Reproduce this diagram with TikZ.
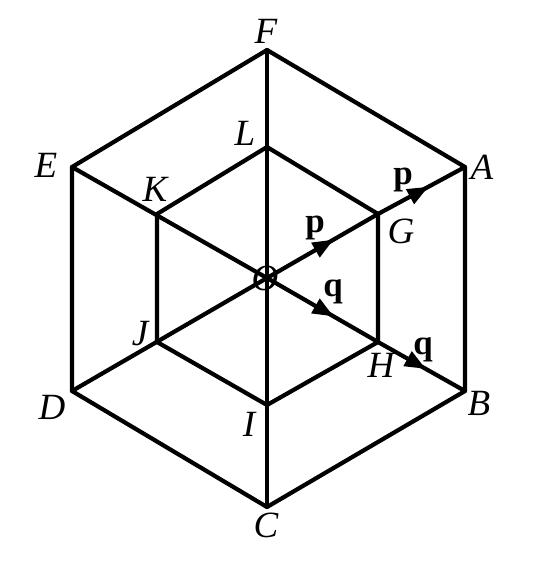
\documentclass[tikz,border=0pt]{standalone}
\usepackage{fontspec}
\setmainfont{Liberation Serif}
\usetikzlibrary{arrows.meta,decorations.markings}
\tikzset{
  edge/.style={line width=4.2pt, line cap=round, line join=round},
  lbl/.style={inner sep=0pt, font=\fontsize{37}{37}\selectfont\itshape},
  vec/.style={inner sep=0pt, font=\fontsize{35}{35}\selectfont\bfseries},
  arrat/.style={postaction={decorate}, decoration={markings,
     mark=at position #1 with {\arrow{Triangle[length=21pt,width=16pt]}}}}
}
\begin{document}
\begin{tikzpicture}[x=1pt,y=-1pt]
\useasboundingbox (0,0) rectangle (540,565);
% outer
\coordinate (F) at (267,50);
\coordinate (A) at (465,167);
\coordinate (B) at (465,391);
\coordinate (C) at (267,507);
\coordinate (D) at (72,391);
\coordinate (E) at (72,167);
% inner
\coordinate (L) at (267,147);
\coordinate (G) at (378,214);
\coordinate (H) at (378,342);
\coordinate (I) at (267,405);
\coordinate (J) at (157,342);
\coordinate (K) at (157,214);
\coordinate (O) at (267,278);
% hexagons
\draw[edge] (F) -- (A) -- (B) -- (C) -- (D) -- (E) -- cycle;
\draw[edge] (L) -- (G) -- (H) -- (I) -- (J) -- (K) -- cycle;
% diagonals
\draw[edge] (F) -- (C);
\draw[edge] (E) -- (O);
\draw[edge] (D) -- (O);
\draw[edge,arrat=0.6] (O) -- (G);
\draw[edge,arrat=0.58] (G) -- (A);
\draw[edge,arrat=0.6] (O) -- (H);
\draw[edge,arrat=0.55] (H) -- (B);
% labels
\node[lbl] (lF) at (266,31) {F};
\node[lbl] (lA) at (482,167) {A};
\node[lbl] (lB) at (479,403) {B};
\node[lbl] (lC) at (266,525) {C};
\node[lbl] (lD) at (52,407) {D};
\node[lbl] (lE) at (46,165) {E};
\node[lbl] (lL) at (245,133) {L};
\node[lbl] (lK) at (155,189) {K};
\node[lbl] (lG) at (401,231) {G};
\node[lbl] (lH) at (381,365) {H};
\node[lbl] (lI) at (249,424) {I};
\node[lbl] (lJ) at (140,334) {J};
\node[lbl] (lO) at (265,278) {O};
\node[vec] (p1) at (315,228) {p};
\node[vec] (p2) at (403,180) {p};
\node[vec] (q1) at (333,292) {q};
\node[vec] (q2) at (423,350) {q};
\end{tikzpicture}
\end{document}
